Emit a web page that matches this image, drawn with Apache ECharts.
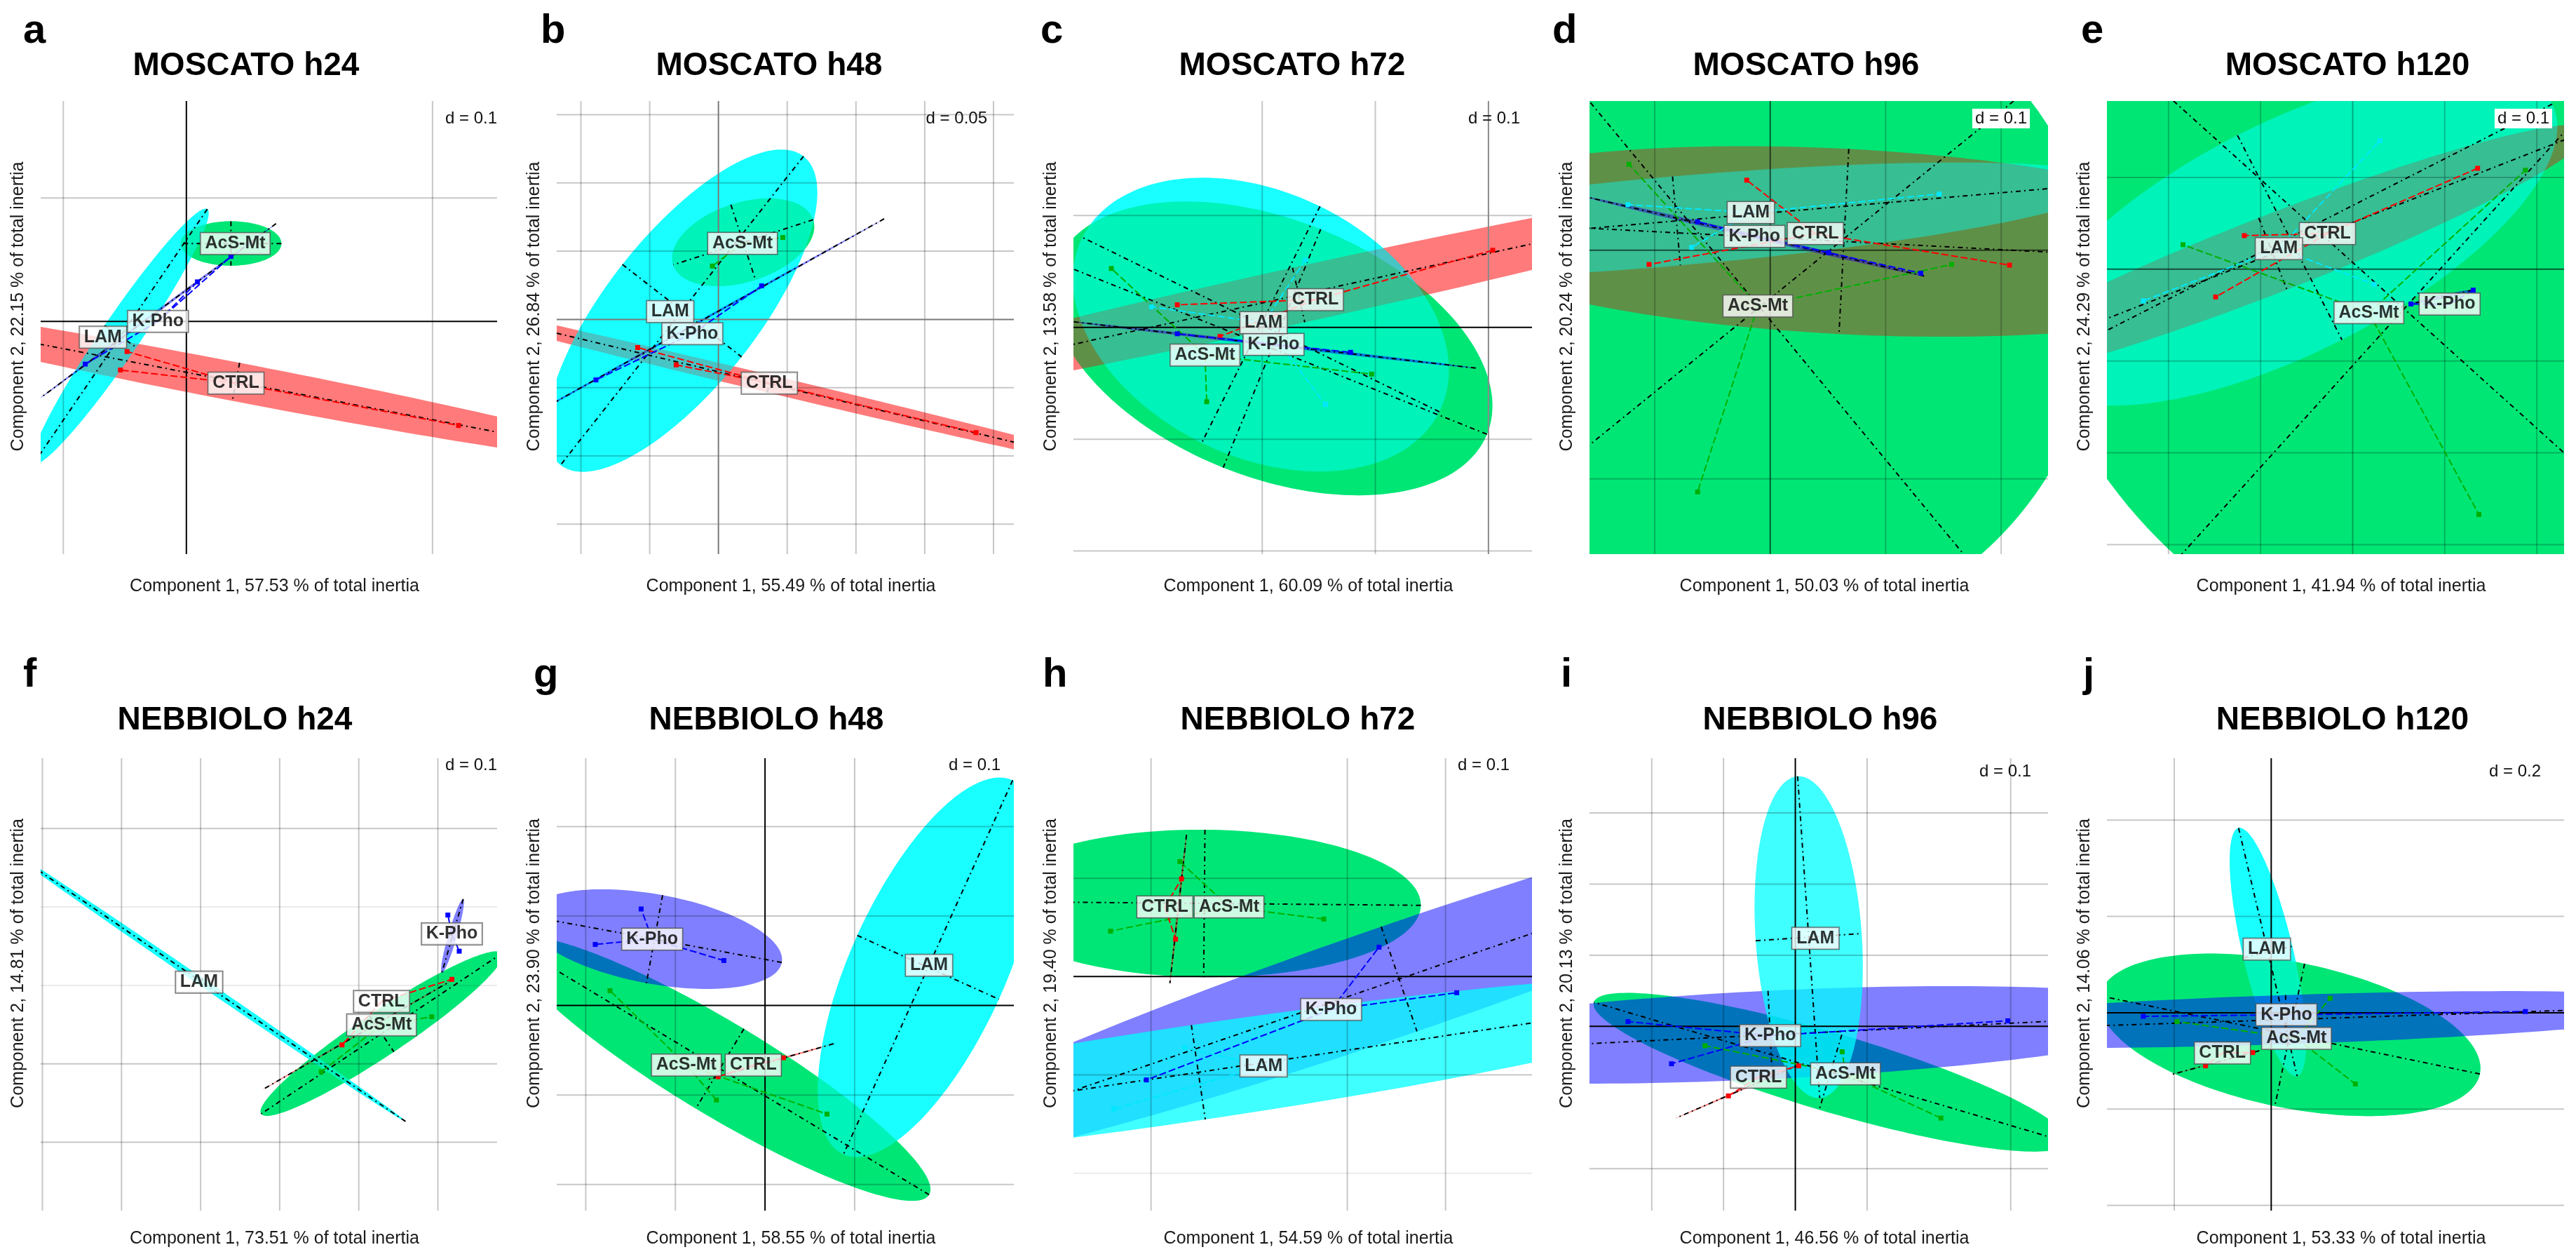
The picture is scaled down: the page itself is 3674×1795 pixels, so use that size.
<!DOCTYPE html>
<html><head><meta charset="utf-8">
<script src="https://cdn.jsdelivr.net/npm/echarts@6/dist/echarts.min.js"></script>
<style>html,body{margin:0;padding:0;background:#fff}#c{width:3674px;height:1795px}</style>
</head><body><div id="c"></div>
<script>
// ---------------- DATA ----------------
const panelTitles = ['MOSCATO h24','MOSCATO h48','MOSCATO h72','MOSCATO h96','MOSCATO h120','NEBBIOLO h24','NEBBIOLO h48','NEBBIOLO h72','NEBBIOLO h96','NEBBIOLO h120'];
const panelLetters = ['a','b','c','d','e','f','g','h','i','j'];
const inertia1 = ['57.53','55.49','60.09','50.03','41.94','73.51','58.55','54.59','46.56','53.33'];
const inertia2 = ['22.15','26.84','13.58','20.24','24.29','14.81','23.90','19.40','20.13','14.06'];
const dScale = ['0.1','0.05','0.1','0.1','0.1','0.1','0.1','0.1','0.1','0.2'];
const groups = ['AcS-Mt','CTRL','K-Pho','LAM'];

// visible window of each panel (data units)
const xRange = [[-0.1184,0.2525],[-0.1176,0.2148],[-0.3669,0.0385],[-0.1565,0.2406],[-0.2669,0.2296],[-0.4022,0.1749],[-0.2324,0.2776],[-0.179,0.2881],[-0.2867,0.352],[-0.3389,0.6042]];
const yRange = [[-0.1885,0.1785],[-0.1719,0.16],[-0.2028,0.2025],[-0.2657,0.1304],[-0.3103,0.1832],[-0.2872,0.2897],[-0.2292,0.2764],[-0.238,0.2221],[-0.2588,0.3768],[-0.4109,0.5286]];

// grid lines (multiples of d) and origin axes
const gridX = [[-0.1,0.2],[-0.1,-0.05,0.05,0.1,0.15,0.2],[-0.2,-0.1],[-0.1,0.1,0.2],[-0.2,-0.1,0.1,0.2],[-0.4,-0.3,-0.2,-0.1,0,0.1],[-0.2,-0.1,0.1],[-0.1,0.1,0.2],[-0.2,-0.1,0.1,0.3],[-0.2]];
const gridY = [[0.1],[-0.15,-0.1,-0.05,0.05,0.1,0.15],[-0.2,-0.1,0.1],[-0.2],[-0.3,-0.2,-0.1,0.1],[-0.2,-0.1,0.2],[-0.2,-0.1,0.1,0.2],[-0.1,0.1],[-0.2,0.1,0.2,0.3],[-0.4,-0.2,0.2,0.4]];
const gridYLight = [[],[],[],[],[],[0,0.1],[],[-0.2],[],[]];
const originX = [[0],[0],[0],[0],[0],[],[0],[],[0],[0]];
const originY = [[0],[0],[0],[0],[0],[],[0],[0],[0],[0]];

// ellipses per group: [centerX, centerY, semiMajor, semiMinor, angleDeg]
const ellAcS = [[0.0362,0.0631,0.041,0.018,0],[0.018,0.0565,0.0535,0.029,18],[-0.1914,-0.0188,0.205,0.115,-22],[-0.0093,-0.0498,0.296,0.289,39.3],[0.0559,-0.0431,0.45,0.366,-42.1],[0.0288,-0.0615,0.1834,0.028,33.9],[-0.0504,-0.0706,0.2726,0.052,-31.1],[-0.0457,0.0744,0.2206,0.075,-0.5],[0.049,-0.0644,0.344,0.055,-16.6],[0.0382,-0.0459,0.4006,0.151,-11.7]];
const ellCTRL = [[0.0403,-0.049,0.35,0.0157,-10.85],[0.037,-0.0472,0.3,0.0065,-13.5],[-0.1678,0.029,0.5,0.025,12.5],[0.0638,0.0076,0.38,0.081,-3],[-0.0867,0.0168,0.37,0.042,21.4],[-0.0008,-0.0626,0.14,0.001,30.2],[0.0056,-0.0629,0.0738,0.001,15.9],[-0.0723,0.0687,0.076,0.001,83.6],[-0.0807,-0.0915,0.093,0.001,23.6],[-0.1146,-0.1035,0.0935,0.001,15.3]];
const ellKPho = [[-0.0237,0.008,0.12,0.001,36.4],[-0.019,-0.0046,0.16,0.0008,29.3],[-0.19,-0.0156,0.18,0.0015,-6.65],[-0.0136,0.0121,0.151,0.002,-13.3],[0.0969,-0.0302,0.034,0.002,12.6],[0.1185,0.0631,0.049,0.0055,74],[-0.1233,0.0742,0.1444,0.05,-10.4],[0.1527,-0.0025,0.6,0.0563,18.9],[-0.035,-0.0119,0.6,0.062,2.8],[0.0313,-0.0142,0.9,0.051,1.9]];
const ellLAM = [[-0.0536,-0.0122,0.125,0.0157,55.6],[-0.0265,0.0064,0.1435,0.055,52],[-0.2012,0.0025,0.176,0.118,-26.3],[-0.0812,0.0256,0.38,0.039,5],[-0.0684,0.0345,0.32,0.125,27],[-0.1998,0.0051,0.3146,0.005,-34.6],[0.1819,0.0427,0.2294,0.0867,65.7],[-0.0518,-0.0973,0.6,0.0485,8.4],[0.0186,0.1254,0.2265,0.074,93.9],[-0.0069,0.1261,0.2646,0.052,103.2]];

// group centroids (label positions)
const labAcS = [[0.0397,0.0631],[0.0175,0.0557],[-0.2506,-0.0248],[-0.0107,-0.0488],[0.0176,-0.0474],[0.0288,-0.0503],[-0.0878,-0.0665],[-0.0205,0.0708],[0.0699,-0.0667],[0.0521,-0.0534]];
const labCTRL = [[0.0403,-0.05],[0.037,-0.0467],[-0.153,0.0248],[0.0391,0.0145],[-0.0274,0.0388],[0.0288,-0.0205],[-0.0131,-0.0665],[-0.0859,0.0708],[-0.0513,-0.0712],[-0.1007,-0.0835]];
const labKPho = [[-0.0231,0],[-0.019,-0.0104],[-0.19,-0.0152],[-0.0136,0.0121],[0.1053,-0.0379],[0.1177,0.0656],[-0.1259,0.0742],[0.0835,-0.0335],[-0.035,-0.013],[0.0313,-0.0042]];
const labLAM = [[-0.0678,-0.0128],[-0.0351,0.0058],[-0.1988,0.0042],[-0.0168,0.0329],[-0.0801,0.0224],[-0.2019,0.0041],[0.183,0.0449],[0.0147,-0.0908],[0.028,0.1237],[-0.009,0.1319]];

// individual samples (star ends)
const starsAcS = [[],[[-0.0044,0.0391],[0.0468,0.06]],[[-0.3334,0.0527],[-0.1033,-0.0418],[-0.2491,-0.0665]],[[-0.1223,0.0751],[0.1571,-0.0125],[-0.0629,-0.2114]],[[-0.1843,0.0267],[0.1876,0.1078],[0.1371,-0.2672]],[[-0.0474,-0.1103],[0.0923,-0.04]],[[-0.173,0.0166],[0.0691,-0.1213],[-0.0542,-0.1056]],[[-0.0706,0.117],[-0.1412,0.0462],[0.076,0.0585]],[[-0.1259,-0.0271],[0.0653,-0.0356],[0.2028,-0.1288]],[[-0.1944,-0.0184],[0.1215,0.0301],[0.1736,-0.1478]]];
const starsCTRL = [[[-0.0482,-0.0244],[-0.0536,-0.0394],[0.2212,-0.0843]],[[-0.0587,-0.0206],[-0.0307,-0.0333],[0.1873,-0.0829]],[[-0.2751,0.0202],[0.0038,0.069],[-0.2373,-0.0081]],[[-0.0203,0.0612],[-0.1049,-0.0125],[0.2072,-0.0131]],[[0.1357,0.1099],[-0.1488,-0.0302],[-0.1177,0.0366]],[[-0.0212,-0.0759],[0.1177,0.0077]],[[-0.0523,-0.0796],[0.0205,-0.0584]],[[-0.0689,0.0994],[-0.075,0.038]],[[-0.0932,-0.0977],[0.0047,-0.0554]],[[-0.1354,-0.1102],[-0.0382,-0.0827]]];
const starsKPho = [[[-0.0822,-0.0346],[0.009,0.032],[0.0362,0.0526]],[[-0.0891,-0.0443],[0.0314,0.0246]],[[-0.2751,-0.0057],[-0.1219,-0.0223]],[[-0.0629,0.0249],[0.0507,-0.0021],[0.1304,-0.0201]],[[0.0633,-0.0379],[0.1309,-0.0228]],[[0.1126,0.0897],[0.127,0.0436]],[[-0.1894,0.0683],[-0.0459,0.0503],[-0.1382,0.1079]],[[0.1323,0.0299],[-0.1047,-0.1051],[0.2114,-0.0164]],[[-0.2331,0.0068],[-0.1725,-0.0525],[0.296,0.0079]],[[-0.2639,-0.0075],[0.5243,0.0025]]];
const starsLAM = [[],[],[[-0.2979,0.0184],[-0.1618,0.0602],[-0.1441,-0.069]],[[-0.1232,0.0398],[-0.0681,0.0024],[0.1464,0.0491]],[[0.0296,0.1401],[-0.2274,-0.0345],[0.023,-0.0164]],[],[],[[-0.0655,-0.0724],[-0.1377,-0.1346]],[],[]];

// ---------------- LAYOUT / STYLE ----------------
const FONT = '"Liberation Sans", Arial, Helvetica, sans-serif';
// fill passes: [group index, colour] in drawing order
const fillPassesA = [
  [0, 'rgb(0,230,118)'],
  [1, 'rgba(255,0,0,0.4)'],
  [3, 'rgba(0,255,255,0.9)'],
  [0, 'rgba(0,230,118,0.45)'],
  [2, 'rgba(0,0,255,0.5)'],
  [1, 'rgba(255,0,0,0.2)']
];
const fillPassesB = [
  [0, 'rgb(0,230,118)'],
  [1, 'rgba(255,0,0,0.4)'],
  [2, 'rgba(0,0,255,0.5)'],
  [3, 'rgba(0,255,255,0.75)'],
  [1, 'rgba(255,0,0,0.2)']
];
const passMode = [0,0,0,0,0,0,0,1,1,0];
const starCol = ['#00b000','#ff0000','#0000ff','#00e8ff'];
const ells = [ellAcS, ellCTRL, ellKPho, ellLAM];
const labs = [labAcS, labCTRL, labKPho, labLAM];
const stars = [starsAcS, starsCTRL, starsKPho, starsLAM];
const colL = [58,794,1531,2267,3005], colW = [651,652,654,654,652];
const rowT = [144,1081], rowH = [646,645];
const titleX = [351,1097,1843,2576,3348,335,1093,1851,2596,3341];
const titleY = [94,1027];
const letterX = [33,771,1484,2214,2968,33,761,1487,2226,2971];
const letterY = [45,963];
const dRight = [709,1408,2168,2895,3640,709,1427,2153,2897,3624];
const dY = [169,169,169,169,169,1091,1091,1091,1100,1100];
const dBox = [false,false,false,true,true,false,false,false,false,false];
const axisColX = ['#000','#7a7a7a','#8a8a8a','rgba(0,0,0,0.6)','rgba(0,0,0,0.3)','#000','#000','#000','#000','#000'];
const axisColY = ['#000','#7a7a7a','#000','rgba(0,0,0,0.6)','rgba(0,0,0,0.6)','#000','#000','#000','#000','#000'];
const GRIDCOL = 'rgba(0,0,0,0.22)', LIGHTCOL = 'rgba(0,0,0,0.08)';

function ellPts(api, cx, cy, a, b, deg, n) {
  const t = deg * Math.PI / 180, c = Math.cos(t), s = Math.sin(t), pts = [];
  for (let i = 0; i < n; i++) {
    const u = 2 * Math.PI * i / n, ex = a * Math.cos(u), ey = b * Math.sin(u);
    pts.push(api.coord([cx + ex * c - ey * s, cy + ex * s + ey * c]));
  }
  return pts;
}

const grids = [], xAxes = [], yAxes = [], series = [], graphics = [];
for (let p = 0; p < 10; p++) {
  const row = p < 5 ? 0 : 1, col = p % 5;
  const L = colL[col], W = colW[col], T = rowT[row], H = rowH[row];
  grids.push({left: L, top: T, width: W, height: H, containLabel: false, show: false});
  xAxes.push({type: 'value', gridIndex: p, min: xRange[p][0], max: xRange[p][1], show: false, splitLine: {show: false}});
  yAxes.push({type: 'value', gridIndex: p, min: yRange[p][0], max: yRange[p][1], show: false, splitLine: {show: false}});

  // ellipse fills
  const passes = passMode[p] ? fillPassesB : fillPassesA;
  series.push({
    type: 'custom', xAxisIndex: p, yAxisIndex: p, clip: true, z: 2, silent: true,
    data: passes.map((fp, i) => ells[fp[0]][p].concat([i])),
    renderItem: (params, api) => {
      const i = api.value(5);
      return {type: 'polygon', shape: {points: ellPts(api, api.value(0), api.value(1), api.value(2), api.value(3), api.value(4), 180)},
        style: {fill: passes[i][1], stroke: null, lineWidth: 0}};
    }
  });
  // grid lines and origin axes
  const gl = [];
  gridX[p].forEach(v => gl.push([v, 0, 0]));
  gridY[p].forEach(v => gl.push([v, 1, 0]));
  gridYLight[p].forEach(v => gl.push([v, 1, 1]));
  originX[p].forEach(v => gl.push([v, 0, 2]));
  originY[p].forEach(v => gl.push([v, 1, 3]));
  const pp = p;
  series.push({
    type: 'custom', xAxisIndex: p, yAxisIndex: p, clip: true, z: 3, silent: true,
    data: gl,
    renderItem: (params, api) => {
      const v = api.value(0), o = api.value(1), kind = api.value(2), cs = params.coordSys;
      const color = kind === 0 ? GRIDCOL : kind === 1 ? LIGHTCOL : kind === 2 ? axisColX[pp] : axisColY[pp];
      let sh;
      if (o === 0) { const q = api.coord([v, 0]); sh = {x1: q[0], y1: cs.y, x2: q[0], y2: cs.y + cs.height}; }
      else { const q = api.coord([0, v]); sh = {x1: cs.x, y1: q[1], x2: cs.x + cs.width, y2: q[1]}; }
      return {type: 'line', shape: sh, style: {stroke: color, lineWidth: 2}};
    }
  });
  // ellipse axes (dash-dot)
  series.push({
    type: 'custom', xAxisIndex: p, yAxisIndex: p, clip: true, z: 4, silent: true,
    data: groups.map((g, k) => ells[k][p].concat([k])),
    renderItem: (params, api) => {
      const cx = api.value(0), cy = api.value(1), a = api.value(2), b = api.value(3), t = api.value(4) * Math.PI / 180;
      const c = Math.cos(t), s = Math.sin(t);
      const p1 = api.coord([cx + a * c, cy + a * s]), p2 = api.coord([cx - a * c, cy - a * s]);
      const q1 = api.coord([cx - b * s, cy + b * c]), q2 = api.coord([cx + b * s, cy - b * c]);
      const st = () => ({stroke: '#000', lineWidth: 2, lineDash: [7, 5, 2, 5], fill: null});
      return {type: 'group', children: [
        {type: 'line', shape: {x1: p1[0], y1: p1[1], x2: p2[0], y2: p2[1]}, style: st()},
        {type: 'line', shape: {x1: q1[0], y1: q1[1], x2: q2[0], y2: q2[1]}, style: st()}
      ]};
    }
  });
  // stars
  const sd = [];
  groups.forEach((g, k) => {
    const c = labs[k][p];
    stars[k][p].forEach(pt => sd.push([c[0], c[1], pt[0], pt[1], k]));
  });
  series.push({
    type: 'custom', xAxisIndex: p, yAxisIndex: p, clip: true, z: 5, silent: true,
    data: sd,
    renderItem: (params, api) => {
      const a = api.coord([api.value(0), api.value(1)]), b = api.coord([api.value(2), api.value(3)]);
      const k = api.value(4);
      return {type: 'group', children: [
        {type: 'line', shape: {x1: a[0], y1: a[1], x2: b[0], y2: b[1]}, style: {stroke: starCol[k], lineWidth: 2, lineDash: [10, 4]}},
        {type: 'rect', shape: {x: b[0] - 3.5, y: b[1] - 3.5, width: 7, height: 7}, style: {fill: starCol[k]}}
      ]};
    }
  });
  // group labels
  series.push({
    type: 'scatter', xAxisIndex: p, yAxisIndex: p, z: 10, silent: true, symbolSize: 1,
    itemStyle: {color: 'rgba(0,0,0,0)'},
    data: groups.map((g, k) => ({name: g, value: labs[k][p]})),
    label: {show: true, position: 'inside', formatter: '{b}', color: '#000', fontFamily: FONT, fontWeight: 'bold', fontSize: 25,
      backgroundColor: '#ffffff', padding: [3, 6, 2, 6], borderColor: '#555', borderWidth: 1.5,
      textBorderWidth: 0, textShadowBlur: 0}
  });

  // texts
  graphics.push({type: 'text', x: letterX[p], y: letterY[row], style: {text: panelLetters[p], font: 'bold 58px ' + FONT, fill: '#000', align: 'left', verticalAlign: 'middle', textAlign: 'left', textVerticalAlign: 'middle'}});
  graphics.push({type: 'text', x: titleX[p], y: titleY[row], style: {text: panelTitles[p], font: 'bold 46px ' + FONT, fill: '#000', align: 'center', verticalAlign: 'middle', textAlign: 'center', textVerticalAlign: 'middle'}});
  graphics.push({type: 'text', x: L + W / 2 + 8, y: row === 0 ? 836 : 1766, style: {text: 'Component 1, ' + inertia1[p] + ' % of total inertia', font: '25px ' + FONT, fill: '#1a1a1a', align: 'center', verticalAlign: 'middle', textAlign: 'center', textVerticalAlign: 'middle'}});
  graphics.push({type: 'text', x: L - 32, y: T + H / 2 - 30, rotation: Math.PI / 2, style: {text: 'Component 2, ' + inertia2[p] + ' % of total inertia', font: '25px ' + FONT, fill: '#1a1a1a', align: 'center', verticalAlign: 'middle', textAlign: 'center', textVerticalAlign: 'middle'}});
  const dStyle = {text: 'd = ' + dScale[p], font: '24px ' + FONT, fill: '#111', align: 'right', verticalAlign: 'middle', textAlign: 'right', textVerticalAlign: 'middle'};
  if (dBox[p]) { dStyle.backgroundColor = '#fff'; dStyle.padding = [2, 4]; }
  graphics.push({type: 'text', x: dRight[p], y: dY[p], z: 100, style: dStyle});
}

const chart = echarts.init(document.getElementById('c'), null, {renderer: 'canvas', width: 3674, height: 1795});
chart.setOption({
  backgroundColor: '#fff', animation: false,
  grid: grids, xAxis: xAxes, yAxis: yAxes, series: series,
  graphic: {elements: graphics}
});
</script></body></html>
